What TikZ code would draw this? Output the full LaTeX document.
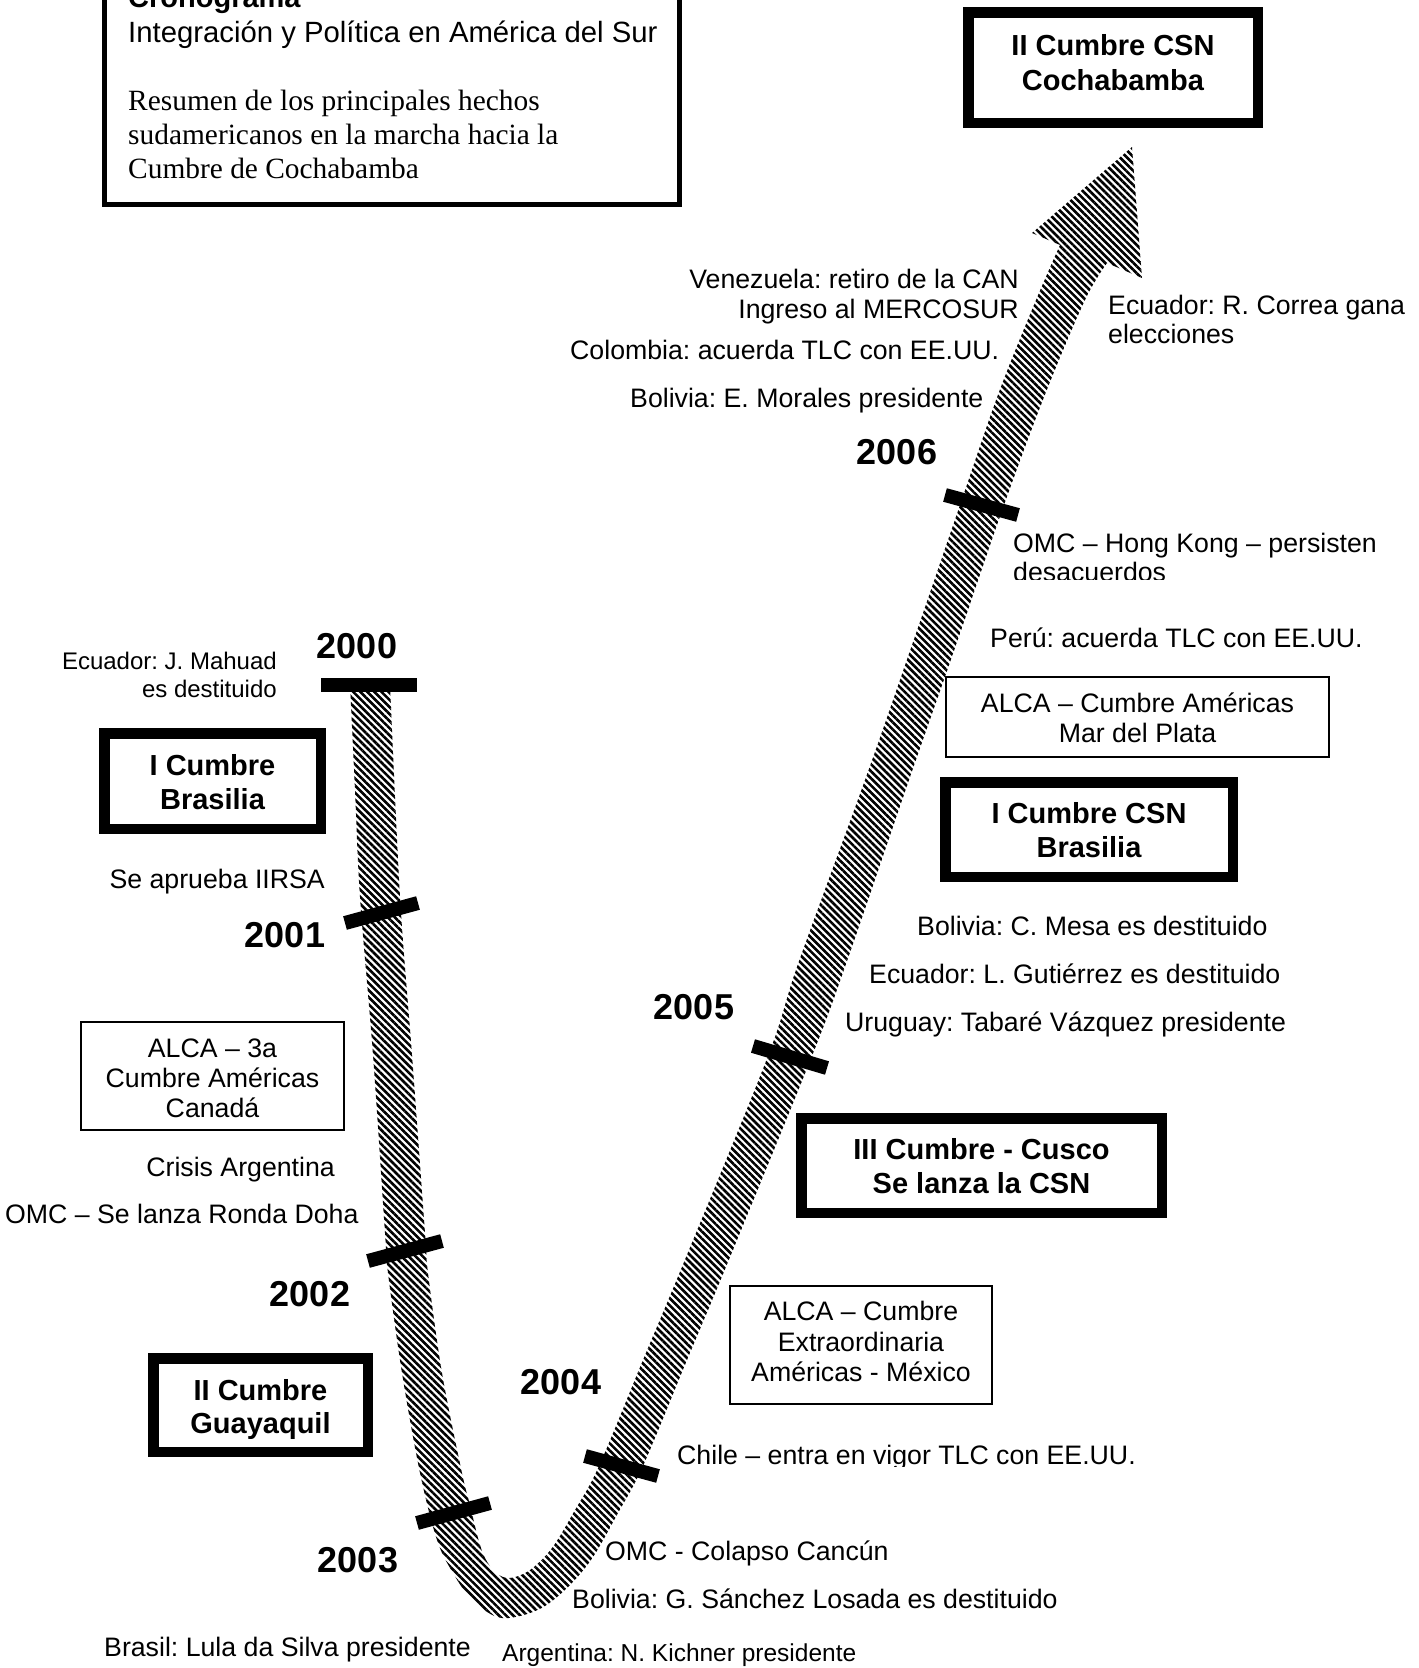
\documentclass[tikz,border=0pt]{standalone}
\usepackage{fontspec}
\setmainfont{Liberation Sans}
\newfontfamily\serifft{Liberation Serif}
\frenchspacing
\usetikzlibrary{patterns.meta}
\tikzset{
  txt/.style={inner sep=0pt, font=\frenchspacing\fontsize{26.7}{30}\selectfont},
  smalltxt/.style={inner sep=0pt, font=\frenchspacing\fontsize{24}{28}\selectfont},
  sertxt/.style={inner sep=0pt, font=\frenchspacing\serifft\fontsize{29.4}{34}\selectfont},
  titletxt/.style={inner sep=0pt, font=\frenchspacing\fontsize{29.3}{34}\selectfont},
  yr/.style={inner sep=0pt, font=\fontsize{36}{40}\selectfont\bfseries},
  btxt/.style={inner sep=0pt, font=\fontsize{29}{34}\selectfont\bfseries},
  thickbox/.style={draw, line width=10.5pt, inner sep=0pt},
  thinbox/.style={draw, line width=1.7pt, inner sep=0pt},
  yeartick/.style={line width=14pt, line cap=butt},
  band/.style={pattern={Lines[angle=-45,distance=5pt,line width=2.6pt]}},
}
\begin{document}
\begin{tikzpicture}[x=1pt,y=-1pt]
\useasboundingbox (0,0) rectangle (1419,1668);
\clip (0,0) rectangle (1419,1668);

% ---------- title box ----------
\node[draw, line width=5pt, inner sep=0pt, minimum width=575pt, minimum height=225pt] (titlebox) at (392,92) {};
\node[titletxt, font=\fontsize{29}{34}\selectfont\bfseries, anchor=base west] (t0) at (128,7) {Cronograma};
\node[titletxt, anchor=base west] (t1) at (128,42) {Integración y Política en América del Sur};
\node[sertxt, anchor=base west] (t2) at (128,110) {Resumen de los principales hechos};
\node[sertxt, anchor=base west] (t3) at (128,144) {sudamericanos en la marcha hacia la};
\node[sertxt, anchor=base west] (t4) at (128,178) {Cumbre de Cochabamba};

% ---------- the band ----------
\fill[band]
  plot[smooth, tension=0.55] coordinates {(350,684) (355,790) (360,897) (373,1055) (385,1233) (388,1273) (402,1373) (420,1473) (437,1540) (453,1573) (472,1600) (497,1617) (520,1616) (545,1606) (570,1585) (593,1557) (618,1513) (643,1466) (687,1360) (728,1262) (812,1056) (846,964) (909,780) (956,645) (1004,505) (1046,392) (1085,300) (1107,263)}
  -- (1142,278) -- (1132,147) -- (1032,233) -- (1060,245)
  -- plot[smooth, tension=0.55] coordinates {(1060,245) (1036,300) (999,392) (960,505) (912,645) (865,780) (798,964) (768,1056) (684,1262) (643,1360) (599,1466) (575,1510) (552,1548) (530,1570) (510,1578) (496,1573) (485,1558) (478,1538) (470,1505) (462,1473) (442,1373) (428,1273) (425,1233) (412,1055) (400,897) (390,684)}
  -- cycle;

% ---------- year ticks ----------
\draw[yeartick] (321,685) -- (417,685);
\draw[yeartick] (345,923) -- (418,903);
\draw[yeartick] (368,1261) -- (442,1241);
\draw[yeartick] (417,1523) -- (490,1503);
\draw[yeartick] (585,1456) -- (658,1476);
\draw[yeartick] (753,1046) -- (827,1068);
\draw[yeartick] (945,495) -- (1018,515);

% ---------- years ----------
\node[yr, anchor=base] (y2000) at (357,658) {2000};
\node[yr, anchor=base] (y2001) at (285,947) {2001};
\node[yr, anchor=base] (y2002) at (310,1306) {2002};
\node[yr, anchor=base] (y2003) at (358,1572) {2003};
\node[yr, anchor=base] (y2004) at (561,1394) {2004};
\node[yr, anchor=base] (y2005) at (694,1019) {2005};
\node[yr, anchor=base] (y2006) at (897,464) {2006};

% ---------- thick boxes ----------
\node[thickbox, minimum width=289.5pt, minimum height=110.5pt] (bcoch) at (1113,67.5) {};
\node[btxt, anchor=base] (bcoch1) at (1113,55) {II Cumbre CSN};
\node[btxt, anchor=base] (bcoch2) at (1113,90) {Cochabamba};

\node[thickbox, minimum width=216.5pt, minimum height=95.5pt] (bbra) at (212.5,781) {};
\node[btxt, anchor=base] (bbra1) at (212.5,775) {I Cumbre};
\node[btxt, anchor=base] (bbra2) at (212.5,809) {Brasilia};

\node[thickbox, minimum width=214.5pt, minimum height=93.5pt] (bguay) at (260.5,1405) {};
\node[btxt, anchor=base] (bguay1) at (260.5,1400) {II Cumbre};
\node[btxt, anchor=base] (bguay2) at (260.5,1433) {Guayaquil};

\node[thickbox, minimum width=360.5pt, minimum height=94.5pt] (bcus) at (981.5,1165.5) {};
\node[btxt, anchor=base] (bcus1) at (981.5,1159) {III Cumbre - Cusco};
\node[btxt, anchor=base] (bcus2) at (981.5,1193) {Se lanza la CSN};

\node[thickbox, minimum width=287.5pt, minimum height=94.5pt] (bcsn) at (1089,829.5) {};
\node[btxt, anchor=base] (bcsn1) at (1089,823) {I Cumbre CSN};
\node[btxt, anchor=base] (bcsn2) at (1089,857) {Brasilia};

% ---------- thin boxes ----------
\node[thinbox, minimum width=263.3pt, minimum height=108.3pt] (balca1) at (212.5,1076) {};
\node[txt, anchor=base] (balca1a) at (212.5,1057) {ALCA – 3a};
\node[txt, anchor=base] (balca1b) at (212.5,1087) {Cumbre Américas};
\node[txt, anchor=base] (balca1c) at (212.5,1117) {Canadá};

\node[thinbox, minimum width=383.3pt, minimum height=80.3pt] (balca2) at (1137.5,717) {};
\node[txt, anchor=base] (balca2a) at (1137.5,712) {ALCA – Cumbre Américas};
\node[txt, anchor=base] (balca2b) at (1137.5,742) {Mar del Plata};

\node[thinbox, minimum width=262.3pt, minimum height=118.3pt] (balca3) at (861,1345) {};
\node[txt, anchor=base] (balca3a) at (861,1320) {ALCA – Cumbre};
\node[txt, anchor=base] (balca3b) at (861,1351) {Extraordinaria};
\node[txt, anchor=base] (balca3c) at (861,1381) {Américas - México};

% ---------- left labels ----------
\node[smalltxt, anchor=base east] (l1a) at (277,669) {Ecuador: J. Mahuad};
\node[smalltxt, anchor=base east] (l1b) at (277,697) {es destituido};
\node[txt, anchor=base east] (l2) at (325,888) {Se aprueba IIRSA};
\node[txt, anchor=base east] (l3) at (335,1176) {Crisis Argentina};
\node[txt, anchor=base west] (l4) at (5,1223) {OMC – Se lanza Ronda Doha};
\node[txt, anchor=base west] (l5) at (104,1656) {Brasil: Lula da Silva presidente};
\node[txt, anchor=base west, font=\frenchspacing\fontsize{24.5}{28}\selectfont] (l6) at (502,1661) {Argentina: N. Kichner presidente};

% ---------- right labels ----------
\node[txt, anchor=base west] (r1) at (605,1560) {OMC - Colapso Cancún};
\node[txt, anchor=base west] (r2) at (572,1608) {Bolivia: G. Sánchez Losada es destituido};
\begin{scope}
  \clip (600,1400) rectangle (1300,1466);
  \node[txt, anchor=base west] (r3) at (677,1464) {Chile – entra en vigor TLC con EE.UU.};
\end{scope}
\node[txt, anchor=base west] (r4) at (845,1031) {Uruguay: Tabaré Vázquez presidente};
\node[txt, anchor=base west] (r5) at (869,983) {Ecuador: L. Gutiérrez es destituido};
\node[txt, anchor=base west] (r6) at (917,935) {Bolivia: C. Mesa es destituido};
\node[txt, anchor=base west] (r7) at (990,647) {Perú: acuerda TLC con EE.UU.};
\node[txt, anchor=base west] (r8a) at (1013,552) {OMC – Hong Kong – persisten};
\begin{scope}
  \clip (1000,555) rectangle (1400,579);
  \node[txt, anchor=base west] (r8b) at (1013,581) {desacuerdos};
\end{scope}
\node[txt, anchor=base west] (r9a) at (1108,314) {Ecuador: R. Correa gana};
\node[txt, anchor=base west] (r9b) at (1108,343) {elecciones};
\node[txt, anchor=base east] (r10a) at (1019,288) {Venezuela: retiro de la CAN};
\node[txt, anchor=base east] (r10b) at (1019,318) {Ingreso al MERCOSUR};
\node[txt, anchor=base west] (r11) at (570,359) {Colombia: acuerda TLC con EE.UU.};
\node[txt, anchor=base west] (r12) at (630,407) {Bolivia: E. Morales presidente};
\end{tikzpicture}
\end{document}
